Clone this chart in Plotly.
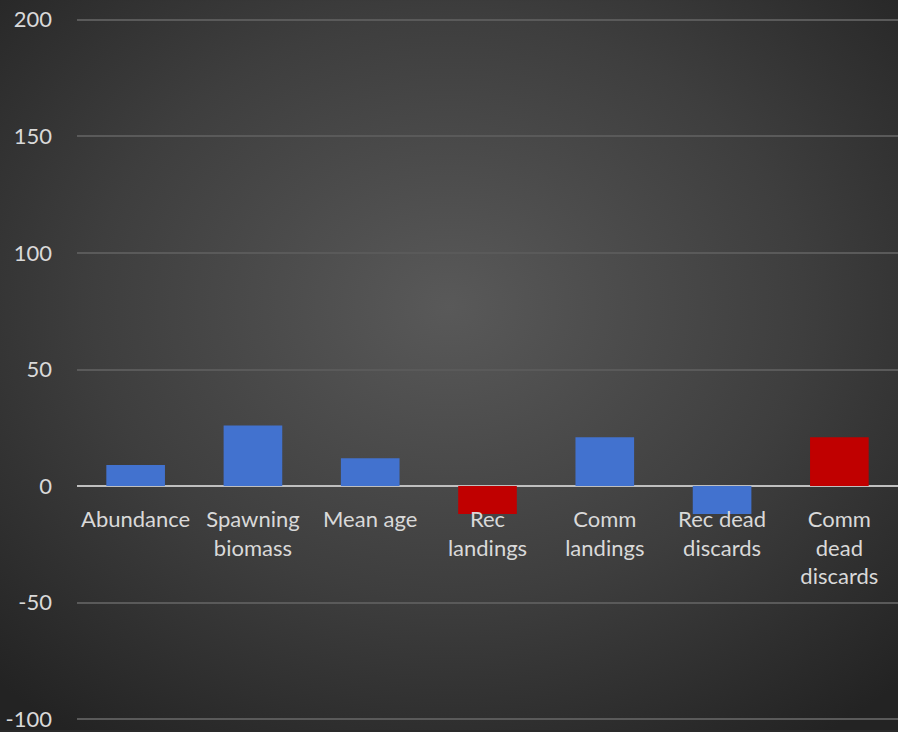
import base64
import plotly.graph_objects as go

# Change (%) by metric
categories = ["Abundance", "Spawning<br>biomass", "Mean age", "Rec<br>landings",
              "Comm<br>landings", "Rec dead<br>discards", "Comm<br>dead<br>discards"]
values = [9, 26, 12, -12, 21, -12, 21]
is_red = [False, False, False, True, False, False, True]

y_ticks = [-100, -50, 0, 50, 100, 150, 200]
y_tick_text = ["-100", "-50", "0", "50", "100", "150", "200"]

W, H = 898, 732
ML, MR, MT, MB = 77, 0, 15, 6
plot_w = W - ML - MR
plot_h = H - MT - MB
y_range = [-102, 202]

blue = "#4272cf"
red = "#c00000"
colors = [red if r else blue for r in is_red]

# Radial dark background as an SVG image behind the plot
svg = f"""<svg xmlns='http://www.w3.org/2000/svg' width='{W}' height='{H}'>
<defs><radialGradient id='g' cx='50%' cy='42%' r='72%'>
<stop offset='0%' stop-color='#595959'/>
<stop offset='55%' stop-color='#3e3e3e'/>
<stop offset='100%' stop-color='#232323'/>
</radialGradient></defs>
<rect width='{W}' height='{H}' fill='url(#g)'/></svg>"""
bg_src = "data:image/svg+xml;base64," + base64.b64encode(svg.encode()).decode()

fig = go.Figure(go.Bar(
    x=categories, y=values,
    marker=dict(color=colors, line=dict(width=0)),
    width=0.5,
))

font_family = "Lato, 'Open Sans', sans-serif"
zero_frac = (0 - y_range[0]) / (y_range[1] - y_range[0])

fig.update_layout(
    width=W, height=H,
    margin=dict(l=ML, r=MR, t=MT, b=MB),
    paper_bgcolor="#2a2a2a",
    plot_bgcolor="rgba(0,0,0,0)",
    showlegend=False,
    font=dict(family=font_family, size=22, color="#d9d9d9"),
    images=[dict(
        source=bg_src, xref="paper", yref="paper",
        x=-ML / plot_w, y=1 + MT / plot_h,
        sizex=W / plot_w, sizey=H / plot_h,
        xanchor="left", yanchor="top", sizing="stretch", layer="below",
    )],
    xaxis=dict(
        anchor="free", position=zero_frac,
        showgrid=False, zeroline=False, showline=False,
        ticks="", tickfont=dict(size=22, color="#d9d9d9"),
        ticklabelstandoff=18,
    ),
    yaxis=dict(
        range=y_range, tickvals=y_ticks, ticktext=y_tick_text,
        showgrid=True, gridcolor="#5a5a5a", gridwidth=2,
        zeroline=True, zerolinecolor="#bfbfbf", zerolinewidth=2,
        showline=False, ticks="",
        tickfont=dict(size=22, color="#d9d9d9"),
        ticklabelstandoff=24, ticklabeloverflow="allow",
    ),
)

fig.write_html("out.html")
